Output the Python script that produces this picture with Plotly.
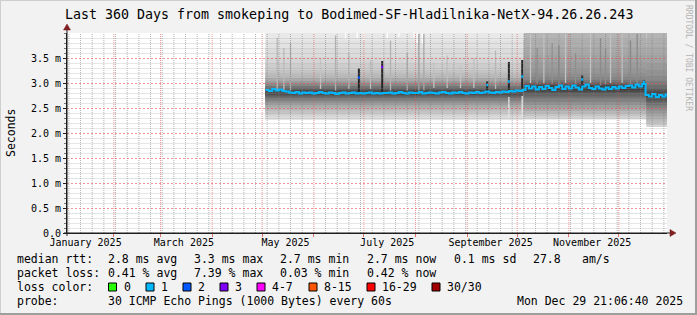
import pandas as pd
import plotly.graph_objects as go

# ---------------------------------------------------------------- data
TITLE = "Last 360 Days from smokeping to Bodimed-SF-Hladilnika-NetX-94.26.26.243"
X_START = "2025-01-03 21:06:40"
X_END = "2025-12-29 21:06:40"
Y_MAX_MS = 4.0

ytick_vals = [0.0, 0.5, 1.0, 1.5, 2.0, 2.5, 3.0, 3.5]
ytick_text = ["0.0", "0.5 m", "1.0 m", "1.5 m", "2.0 m", "2.5 m", "3.0 m", "3.5 m"]

month_label_dates = ["2025-01-15", "2025-03-15", "2025-05-15",
                     "2025-07-15", "2025-09-15", "2025-11-15"]
month_labels = ["January 2025", "March 2025", "May 2025",
                "July 2025", "September 2025", "November 2025"]

# median rtt (ms), one value every 2 days starting 2025-05-03
median_first = "2025-05-03"
median_step_days = 2
median_ms = [
    2.86, 2.84, 2.88, 2.85, 2.87, 2.84, 2.83,
    2.81, 2.80, 2.82, 2.79, 2.81, 2.80, 2.81, 2.79, 2.80, 2.82, 2.80, 2.79,
    2.81, 2.80, 2.78, 2.80, 2.81, 2.79, 2.80, 2.81, 2.79,
    2.80,
    2.79, 2.80, 2.81, 2.79, 2.80, 2.79,
    2.80,
    2.80, 2.81, 2.79, 2.80, 2.82, 2.80, 2.79, 2.81, 2.80, 2.80, 2.82, 2.79,
    2.80, 2.81, 2.80, 2.79, 2.81, 2.82, 2.80, 2.79, 2.81, 2.80, 2.82, 2.80,
    2.79, 2.81, 2.80, 2.82, 2.80, 2.81,
    2.83,
    2.81, 2.80, 2.82, 2.81, 2.83, 2.82,
    2.84,
    2.83, 2.85, 2.84, 2.86,
    2.94, 2.89, 2.93, 2.87, 2.92, 2.88, 2.94, 2.90, 2.86, 2.92, 2.95, 2.88,
    2.93, 2.89, 2.95, 2.91, 2.87, 2.93, 2.97, 2.90, 2.88, 2.93, 2.89, 2.87,
    2.91, 2.88, 2.92, 2.89, 2.93, 2.90, 2.94, 2.95, 2.91, 2.97, 2.93, 2.98,
    2.76, 2.73, 2.78, 2.72, 2.76, 2.73, 2.77,
]

# single-column spikes (median marker + dark smoke column)
spike_dates = ["2025-06-28", "2025-07-12", "2025-09-13", "2025-09-26",
               "2025-10-04", "2025-11-09", "2025-12-16"]
spike_base_ms = [2.80, 2.80, 2.82, 2.83, 2.86, 2.90, 2.94]
spike_median_ms = [3.11, 3.32, 2.96, 3.03, 3.13, 3.07, 3.02]
spike_top_ms = [3.29, 3.44, 3.03, 3.42, 3.46, 3.15, 3.05]
spike_loss = [2, 3, 1, 1, 1, 1, 1]

# smoke regimes (ms): outer -> inner band edges below / above the centre
regime_start = ["2025-05-02 21:00", "2025-10-05 00:00", "2025-12-17 12:00"]
regime_end = ["2025-10-05 00:00", "2025-12-17 12:00", "2025-12-29 21:06:40"]
regime_center_ms = [2.81, 2.91, 2.75]
smoke1_lo = [2.26, 2.29, 2.33, 2.37, 2.41, 2.46, 2.51, 2.56, 2.61, 2.65, 2.69, 2.73, 2.76]
smoke1_hi = [4.00, 3.85, 3.68, 3.52, 3.38, 3.26, 3.17, 3.10, 3.04, 2.99, 2.94, 2.90, 2.86]
smoke2_lo = [2.27, 2.30, 2.34, 2.39, 2.44, 2.50, 2.56, 2.62, 2.68, 2.73, 2.78, 2.82, 2.86]
smoke2_hi = [4.00, 3.88, 3.72, 3.56, 3.42, 3.30, 3.20, 3.12, 3.06, 3.02, 2.99, 2.96, 2.94]
smoke3_lo = [2.12, 2.16, 2.21, 2.27, 2.33, 2.39, 2.45, 2.51, 2.56, 2.61, 2.65, 2.69, 2.72]
smoke3_hi = [4.00, 3.88, 3.72, 3.56, 3.40, 3.26, 3.14, 3.04, 2.96, 2.90, 2.85, 2.81, 2.78]

# isolated smoke streaks (ms)
streak_dates = ["2025-05-10", "2025-05-14", "2025-05-18", "2025-06-05",
                "2025-06-14", "2025-06-22", "2025-07-05", "2025-07-17",
                "2025-07-27", "2025-08-03", "2025-08-06", "2025-08-12",
                "2025-08-20", "2025-08-28", "2025-09-05", "2025-09-18",
                "2025-10-09", "2025-10-13", "2025-10-17", "2025-10-22",
                "2025-10-26", "2025-10-30", "2025-11-05", "2025-11-14",
                "2025-11-20", "2025-11-23", "2025-11-26", "2025-12-03",
                "2025-12-08", "2025-12-12"]
streak_lo_ms = [2.85, 2.85, 2.85, 2.88, 2.85, 2.88, 2.88, 2.85,
                2.85, 2.85, 2.85, 2.90, 2.90, 2.90, 2.90, 2.88,
                3.00, 2.98, 3.00, 2.98, 2.95, 3.00, 2.98, 3.00,
                2.95, 2.98, 3.00, 3.00, 2.98, 2.95]
streak_hi_ms = [3.90, 3.70, 3.80, 3.50, 3.95, 3.60, 3.45, 3.85,
                3.60, 3.98, 3.98, 3.40, 3.55, 3.35, 3.50, 3.65,
                3.98, 3.70, 3.98, 3.80, 3.75, 3.98, 3.60, 3.98,
                3.90, 3.70, 3.98, 3.98, 3.85, 3.98]
# white gaps at the top of the smoke
gap_dates = ["2025-06-20", "2025-06-27", "2025-07-01", "2025-07-15",
             "2025-07-22", "2025-07-31", "2025-08-02", "2025-08-05"]
gap_lo_ms = [3.88, 3.90, 3.86, 3.90, 3.92, 3.90, 3.80, 3.78]
# light columns below the median
light_dates = ["2025-09-26", "2025-10-04"]
light_lo_ms = [2.30, 2.28]
light_hi_ms = [2.72, 2.74]

# legend content
stat_rtt = ["median rtt:", "2.8 ms avg", "3.3 ms max", "2.7 ms min",
            "2.7 ms now", "0.1 ms sd", "27.8", "am/s"]
stat_loss = ["packet loss:", "0.41 % avg", "7.39 % max", "0.03 % min", "0.42 % now"]
loss_labels = ["0", "1", "2", "3", "4-7", "8-15", "16-29", "30/30"]
probe_text = ["probe:", "30 ICMP Echo Pings (1000 Bytes) every 60s"]
stamp_text = "Mon Dec 29 21:06:40 2025"
watermark = "RRDTOOL / TOBI OETIKER"
y_title = "Seconds"

# ---------------------------------------------------------------- styles
FONT = "DejaVu Sans Mono"
loss_colors = ["#26ff00", "#00b8ff", "#0059ff", "#7e00ff",
               "#ff00ff", "#ff5500", "#ff0000", "#a10000"]


def greys(levels):
    return ["#%02x%02x%02x" % (g, g, g) for g in levels]


smoke1_lo_col = greys([0xe4, 0xdc, 0xd4, 0xcb, 0xc1, 0xb6, 0xa9, 0x9b, 0x8c, 0x7c, 0x6c, 0x5c, 0x4e])
smoke1_hi_col = greys([0xe8, 0xe2, 0xdc, 0xd5, 0xcd, 0xc4, 0xb8, 0xaa, 0x9a, 0x88, 0x74, 0x60, 0x4c])
smoke2_lo_col = greys([0xdc, 0xd0, 0xc4, 0xb8, 0xab, 0x9e, 0x90, 0x82, 0x74, 0x66, 0x58, 0x4a, 0x40])
smoke2_hi_col = greys([0xb4, 0xae, 0xa8, 0xa2, 0x9c, 0x96, 0x8e, 0x84, 0x78, 0x6a, 0x5a, 0x4a, 0x3e])
smoke3_lo_col = greys([0xd4, 0xc8, 0xbc, 0xb0, 0xa4, 0x98, 0x8c, 0x7e, 0x70, 0x62, 0x54, 0x48, 0x3e])
smoke3_hi_col = greys([0xb4, 0xae, 0xa8, 0xa2, 0x9a, 0x92, 0x88, 0x7c, 0x6e, 0x5e, 0x50, 0x44, 0x3c])
streak_shade = ["#b8b8b8", "#bcbcbc", "#b4b4b4", "#c4c4c4", "#b0b0b0", "#c0c0c0",
                "#bababa", "#b4b4b4", "#b0b0b0", "#a8a8a8", "#a8a8a8", "#c2c2c2",
                "#bebebe", "#c4c4c4", "#c0c0c0", "#b8b8b8",
                "#c4c4c4", "#8c8c8c", "#c0c0c0", "#909090", "#868686", "#c6c6c6",
                "#8e8e8e", "#c2c2c2", "#8a8a8a", "#929292", "#c4c4c4", "#bebebe",
                "#888888", "#8a8a8a"]
MINOR_GRID = "rgba(120,120,120,0.55)"
MAJOR_GRID = "rgba(222,79,79,0.6)"
MINOR_GRID_H = "rgba(150,150,150,0.24)"
AXIS = "#1f1f1f"
ARROW = "#801f1f"

# layout geometry (pixels)
L, T, W, H = 67, 33, 600, 200
IMG_W, IMG_H = 697, 315
PX_PER_MS = H / Y_MAX_MS
HALF_PX_MS = 0.5 / PX_PER_MS   # puts 1px horizontal grid lines on pixel centres


def px(x):
    return (x - L) / W


def py(y):
    return (T + H - y) / H


def iso(t):
    return pd.Timestamp(t).strftime("%Y-%m-%d %H:%M:%S")


fig = go.Figure()

# ---------------------------------------------------------------- smoke
regimes = [
    (smoke1_lo, smoke1_hi, smoke1_lo_col, smoke1_hi_col),
    (smoke2_lo, smoke2_hi, smoke2_lo_col, smoke2_hi_col),
    (smoke3_lo, smoke3_hi, smoke3_lo_col, smoke3_hi_col),
]
for (lo, hi, lo_col, hi_col), s, e, c in zip(regimes, regime_start, regime_end, regime_center_ms):
    for k in range(len(lo)):
        fig.add_trace(go.Scatter(x=[s, e, e, s], y=[lo[k], lo[k], c, c], fill="toself",
                                 fillcolor=lo_col[k], mode="none", hoverinfo="skip"))
        fig.add_trace(go.Scatter(x=[s, e, e, s], y=[c, c, hi[k], hi[k]], fill="toself",
                                 fillcolor=hi_col[k], mode="none", hoverinfo="skip"))


def vseg(xs, y0s, y1s):
    X, Y = [], []
    for x, a, b in zip(xs, y0s, y1s):
        X += [iso(x), iso(x), None]
        Y += [a, b, None]
    return X, Y


for d, a, b, col in zip(streak_dates, streak_lo_ms, streak_hi_ms, streak_shade):
    fig.add_trace(go.Scatter(x=[d, d], y=[a, b], mode="lines",
                             line=dict(color=col, width=1.3), hoverinfo="skip"))

X, Y = vseg(gap_dates, gap_lo_ms, [Y_MAX_MS] * len(gap_dates))
fig.add_trace(go.Scatter(x=X, y=Y, mode="lines", line=dict(color="#ffffff", width=1.3),
                         hoverinfo="skip"))
X, Y = vseg(light_dates, light_lo_ms, light_hi_ms)
fig.add_trace(go.Scatter(x=X, y=Y, mode="lines", line=dict(color="#e4e4e4", width=1.3),
                         hoverinfo="skip"))

# spike smoke columns
X, Y = vseg(spike_dates, spike_base_ms, spike_top_ms)
fig.add_trace(go.Scatter(x=X, y=Y, mode="lines", line=dict(color="#262626", width=2),
                         hoverinfo="skip"))

# ---------------------------------------------------------------- grid (drawn over the smoke)
month_starts = [iso(t) for t in pd.date_range("2025-02-01", "2025-12-01", freq="MS")]
week_lines = [iso(t) for t in pd.date_range("2025-01-05", X_END, freq="7D") if t.day != 1]
minor_y = [i / 10 for i in range(1, 40) if i % 5]
major_y = [i / 2 for i in range(1, 8)]


def vgrid(xs, color):
    X, Y = [], []
    for x in xs:
        X += [x, x, None]
        Y += [0, Y_MAX_MS, None]
    return go.Scatter(x=X, y=Y, mode="lines", hoverinfo="skip",
                      line=dict(color=color, width=1, dash="1px,1px"))


fig.add_trace(vgrid(week_lines, MINOR_GRID))
fig.add_trace(vgrid(month_starts, MAJOR_GRID))
for yv in minor_y:
    fig.add_trace(go.Scatter(x=[X_START, X_END], y=[yv - HALF_PX_MS] * 2, mode="lines",
                             hoverinfo="skip", line=dict(color=MINOR_GRID_H, width=1)))
for yv in major_y:
    fig.add_trace(go.Scatter(x=[X_START, X_END], y=[yv - HALF_PX_MS] * 2, mode="lines",
                             hoverinfo="skip",
                             line=dict(color=MAJOR_GRID, width=1, dash="2px,2px")))

# ---------------------------------------------------------------- median line
mdates = [iso(t) for t in pd.date_range(median_first, periods=len(median_ms),
                                        freq=f"{median_step_days}D")]
fig.add_trace(go.Scatter(x=mdates + [X_END], y=median_ms + [median_ms[-1]], mode="lines",
                         line=dict(color=loss_colors[1], width=2, shape="hv"),
                         hoverinfo="skip"))
for d, v, li in zip(spike_dates, spike_median_ms, spike_loss):
    t = pd.Timestamp(d)
    fig.add_trace(go.Scatter(x=[iso(t - pd.Timedelta(hours=14)), iso(t + pd.Timedelta(hours=14))],
                             y=[v, v], mode="lines",
                             line=dict(color=loss_colors[li], width=2.5), hoverinfo="skip"))

# ---------------------------------------------------------------- axes
fig.update_xaxes(type="date", range=[X_START, X_END], showgrid=False, zeroline=False,
                 showline=True, linecolor=AXIS, linewidth=1,
                 tickmode="array", tickvals=month_label_dates, ticktext=month_labels,
                 ticks="", tickfont=dict(family=FONT, size=10, color="#000000"),
                 minor=dict(tickmode="array", tickvals=month_starts, ticks="outside",
                            ticklen=3, tickcolor="rgba(222,79,79,0.8)", showgrid=False),
                 fixedrange=True)
fig.update_yaxes(range=[0, Y_MAX_MS], showgrid=False, zeroline=False,
                 showline=True, linecolor=AXIS, linewidth=1,
                 tickmode="array", tickvals=ytick_vals, ticktext=ytick_text,
                 ticks="outside", ticklen=3, tickcolor=AXIS,
                 tickfont=dict(family=FONT, size=10, color="#000000"),
                 minor=dict(dtick=0.1, tick0=0, ticks="outside", ticklen=2,
                            tickcolor="#777777", showgrid=False),
                 fixedrange=True)

shapes = []
# border shading
shapes.append(dict(type="line", xref="paper", yref="paper", x0=px(0), x1=px(IMG_W),
                   y0=py(0.5), y1=py(0.5), line=dict(color="#cfcfcf", width=1)))
shapes.append(dict(type="line", xref="paper", yref="paper", x0=px(0.5), x1=px(0.5),
                   y0=py(0), y1=py(IMG_H), line=dict(color="#cfcfcf", width=1)))
shapes.append(dict(type="line", xref="paper", yref="paper", x0=px(0), x1=px(IMG_W),
                   y0=py(IMG_H - 1), y1=py(IMG_H - 1), line=dict(color="#9e9e9e", width=2)))
shapes.append(dict(type="line", xref="paper", yref="paper", x0=px(IMG_W - 1), x1=px(IMG_W - 1),
                   y0=py(0), y1=py(IMG_H), line=dict(color="#9e9e9e", width=2)))
# axis extensions and arrows
shapes.append(dict(type="line", xref="paper", yref="paper", x0=px(L), x1=px(L),
                   y0=py(T + H + 3), y1=py(T - 4), line=dict(color=AXIS, width=1)))
shapes.append(dict(type="line", xref="paper", yref="paper", x0=px(L - 3), x1=px(L + W + 3),
                   y0=py(T + H), y1=py(T + H), line=dict(color=AXIS, width=1)))
shapes.append(dict(type="path", xref="paper", yref="paper",
                   path=f"M {px(L - 3.5)},{py(T - 3)} L {px(L + 3.5)},{py(T - 3)} "
                        f"L {px(L)},{py(T - 9)} Z",
                   fillcolor=ARROW, line=dict(color=ARROW, width=0.5)))
shapes.append(dict(type="path", xref="paper", yref="paper",
                   path=f"M {px(L + W + 3)},{py(T + H - 3.5)} L {px(L + W + 3)},{py(T + H + 3.5)} "
                        f"L {px(L + W + 9)},{py(T + H)} Z",
                   fillcolor=ARROW, line=dict(color=ARROW, width=0.5)))

# loss colour legend boxes
box_x = [108.5, 146, 183, 220, 257, 309, 367, 432]
label_x = [123.7, 160.7, 197.8, 234.8, 272, 323.7, 381.7, 447.3]
for bx, col in zip(box_x, loss_colors):
    shapes.append(dict(type="rect", xref="paper", yref="paper",
                       x0=px(bx), x1=px(bx + 8), y0=py(283), y1=py(291),
                       fillcolor=col, line=dict(color="#000000", width=1)))

annotations = []


def text(s, x, y, size=11.5, anchor="left", color="#000000", angle=0):
    annotations.append(dict(text=s, xref="paper", yref="paper", x=px(x), y=py(y),
                            xanchor=anchor, yanchor="middle", showarrow=False,
                            textangle=angle, borderpad=0, borderwidth=0,
                            font=dict(family=FONT, size=size, color=color)))


text(TITLE, 348.5, 14, size=13.3, anchor="center")
text(y_title, 11, 133, size=11.5, anchor="center", angle=-90)
text(watermark, 689, 58, size=8, anchor="center", color="#b4b4b4", angle=90)

row1_x = [16.5, 108, 193.8, 280, 367, 453.6, 532.6, 581.7]
for s, x in zip(stat_rtt, row1_x):
    text(s, x, 259.3)
row2_x = [16.5, 108, 193.8, 280, 367]
for s, x in zip(stat_loss, row2_x):
    text(s, x, 273.3)
text("loss color:", 16.5, 287.3)
for s, x in zip(loss_labels, label_x):
    text(s, x, 287.3)
text(probe_text[0], 16.5, 301)
text(probe_text[1], 108, 301)
text(stamp_text, 683, 301, anchor="right")

fig.update_layout(width=IMG_W, height=IMG_H,
                  margin=dict(l=L, r=IMG_W - L - W, t=T, b=IMG_H - T - H),
                  paper_bgcolor="#f2f2f2", plot_bgcolor="#ffffff",
                  showlegend=False, shapes=shapes, annotations=annotations,
                  font=dict(family=FONT, size=10, color="#000000"))

fig.write_html("out.html")
